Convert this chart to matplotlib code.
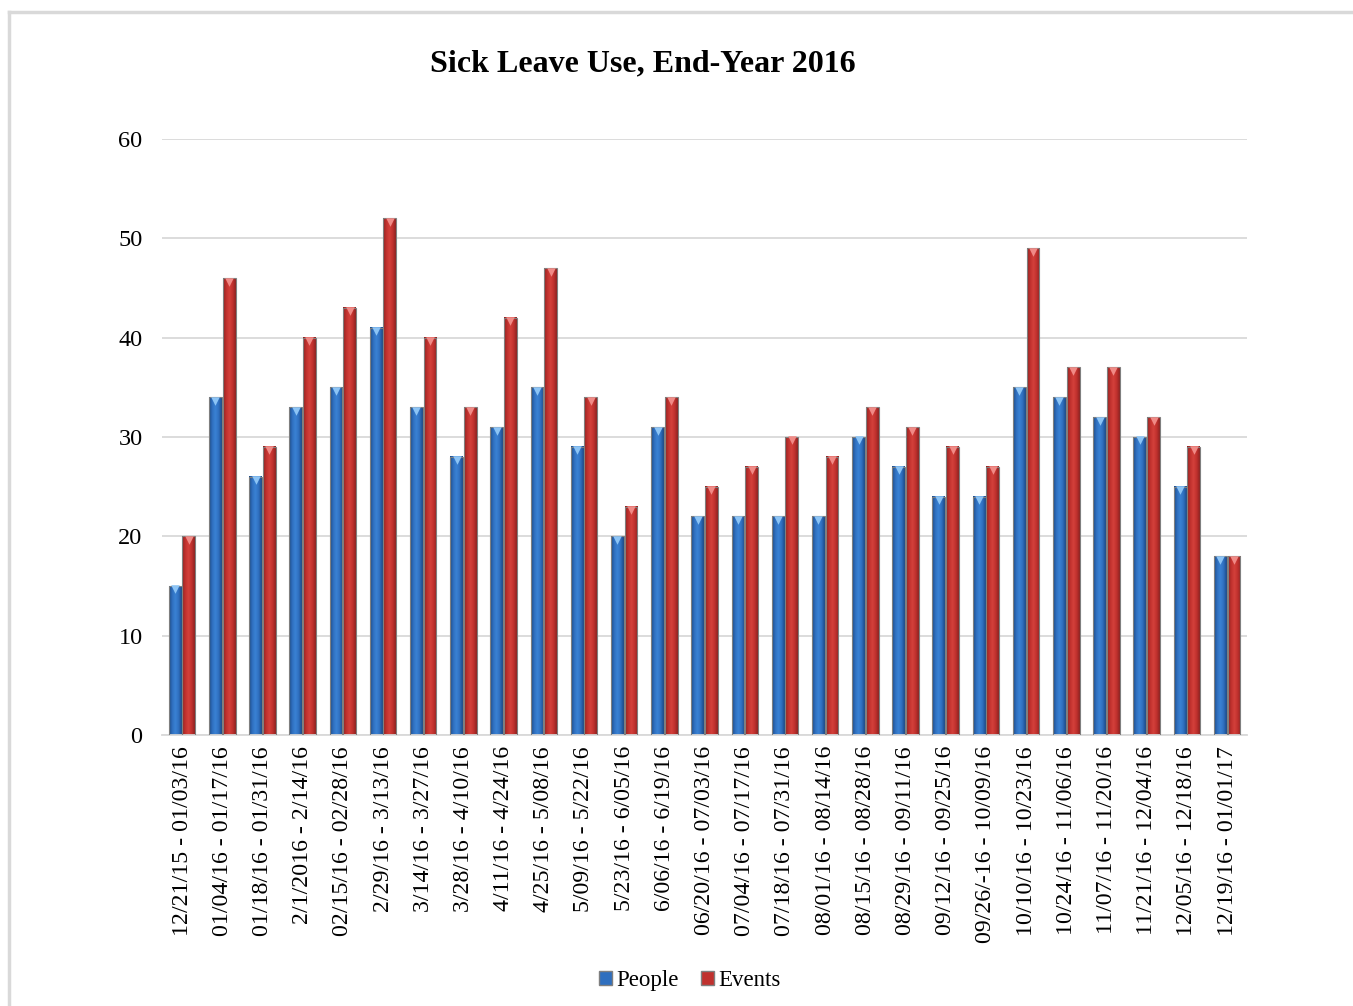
import numpy as np
import matplotlib as mpl
mpl.use('Agg')
import matplotlib.pyplot as plt
from matplotlib.colors import LinearSegmentedColormap
from matplotlib.lines import Line2D

periods = ["12/21/15 - 01/03/16", "01/04/16 - 01/17/16", "01/18/16 - 01/31/16",
           "2/1/2016 - 2/14/16", "02/15/16 - 02/28/16", "2/29/16 - 3/13/16",
           "3/14/16 - 3/27/16", "3/28/16 - 4/10/16", "4/11/16 - 4/24/16",
           "4/25/16 - 5/08/16", "5/09/16 - 5/22/16", "5/23/16 - 6/05/16",
           "6/06/16 - 6/19/16", "06/20/16 - 07/03/16", "07/04/16 - 07/17/16",
           "07/18/16 - 07/31/16", "08/01/16 - 08/14/16", "08/15/16 - 08/28/16",
           "08/29/16 - 09/11/16", "09/12/16 - 09/25/16", "09/26/-16 - 10/09/16",
           "10/10/16 - 10/23/16", "10/24/16 - 11/06/16", "11/07/16 - 11/20/16",
           "11/21/16 - 12/04/16", "12/05/16 - 12/18/16", "12/19/16 - 01/01/17"]
people = [15, 34, 26, 33, 35, 41, 33, 28, 31, 35, 29, 20, 31, 22, 22, 22, 22,
          30, 27, 24, 24, 35, 34, 32, 30, 25, 18]
events = [20, 46, 29, 40, 43, 52, 40, 33, 42, 47, 34, 23, 34, 25, 27, 30, 28,
          33, 31, 29, 27, 49, 37, 37, 32, 29, 18]

plt.rcParams['font.family'] = ['Liberation Serif', 'DejaVu Serif']

blue_cm = LinearSegmentedColormap.from_list(
    "b", ["#1d4a86", "#2f6fbf", "#3a82d4", "#2f6fbf", "#1d4a86"])
red_cm = LinearSegmentedColormap.from_list(
    "r", ["#8e2220", "#c0312e", "#d4403b", "#c0312e", "#8e2220"])
grad = np.linspace(0, 1, 64).reshape(1, -1)

fig = plt.figure(figsize=(13.53, 10.06), dpi=100)
ax = fig.add_axes([0.1197, 0.2694, 0.8021, 0.5924])

# chart frame
fig.add_artist(Line2D([0.0066, 0.0066], [0.0, 0.988], color="#d9d9d9", lw=2.5,
                      transform=fig.transFigure))
fig.add_artist(Line2D([0.0066, 1.0], [0.988, 0.988], color="#d9d9d9", lw=2.5,
                      transform=fig.transFigure))

x = np.arange(len(periods))
w = 0.32
off = 0.17


def shaded_bars(xs, vals, cmap, tip):
    for xc, v in zip(xs, vals):
        x0, x1 = xc - w / 2, xc + w / 2
        ax.imshow(grad, cmap=cmap, extent=(x0, x1, 0, v), aspect='auto',
                  zorder=2, interpolation='bilinear')
    ax.bar(xs, vals, width=w, facecolor='none', edgecolor="#7f7f7f",
           linewidth=0.8, zorder=3)
    ax.scatter(xs, np.array(vals) - 0.35, marker='v', s=38, color=tip,
               linewidths=0, zorder=4)


shaded_bars(x - off, people, blue_cm, "#8cc4f5")
shaded_bars(x + off, events, red_cm, "#f08a86")

ax.set_xlim(-0.5, len(periods) - 0.5)
ax.set_ylim(0, 60)
ax.set_yticks(range(0, 61, 10))
ax.yaxis.grid(True, color="#d9d9d9", linewidth=1.3, zorder=0)
ax.set_axisbelow(True)
for s in ["top", "right", "left"]:
    ax.spines[s].set_visible(False)
ax.spines["bottom"].set_color("#d9d9d9")
ax.spines["bottom"].set_linewidth(1.3)
ax.tick_params(axis='y', length=0, labelsize=17.5, pad=14)
ax.tick_params(axis='x', length=0, labelsize=17.2, pad=8)
ax.set_xticks(x)
ax.set_xticklabels(periods, rotation=90)

fig.text(0.475, 0.936, "Sick Leave Use, End-Year 2016", ha='center',
         va='center', fontsize=23, fontweight='bold')

handles = [plt.Rectangle((0, 0), 1, 1, facecolor="#2f6fbf", edgecolor="#7f7f7f"),
           plt.Rectangle((0, 0), 1, 1, facecolor="#c0312e", edgecolor="#7f7f7f")]
fig.legend(handles, ["People", "Events"], loc='center', ncol=2,
           bbox_to_anchor=(0.51, 0.025), frameon=False, fontsize=16.5,
           handlelength=0.55, handleheight=0.55, handletextpad=0.2,
           columnspacing=1.0)

fig.savefig("out.png", dpi=100)
